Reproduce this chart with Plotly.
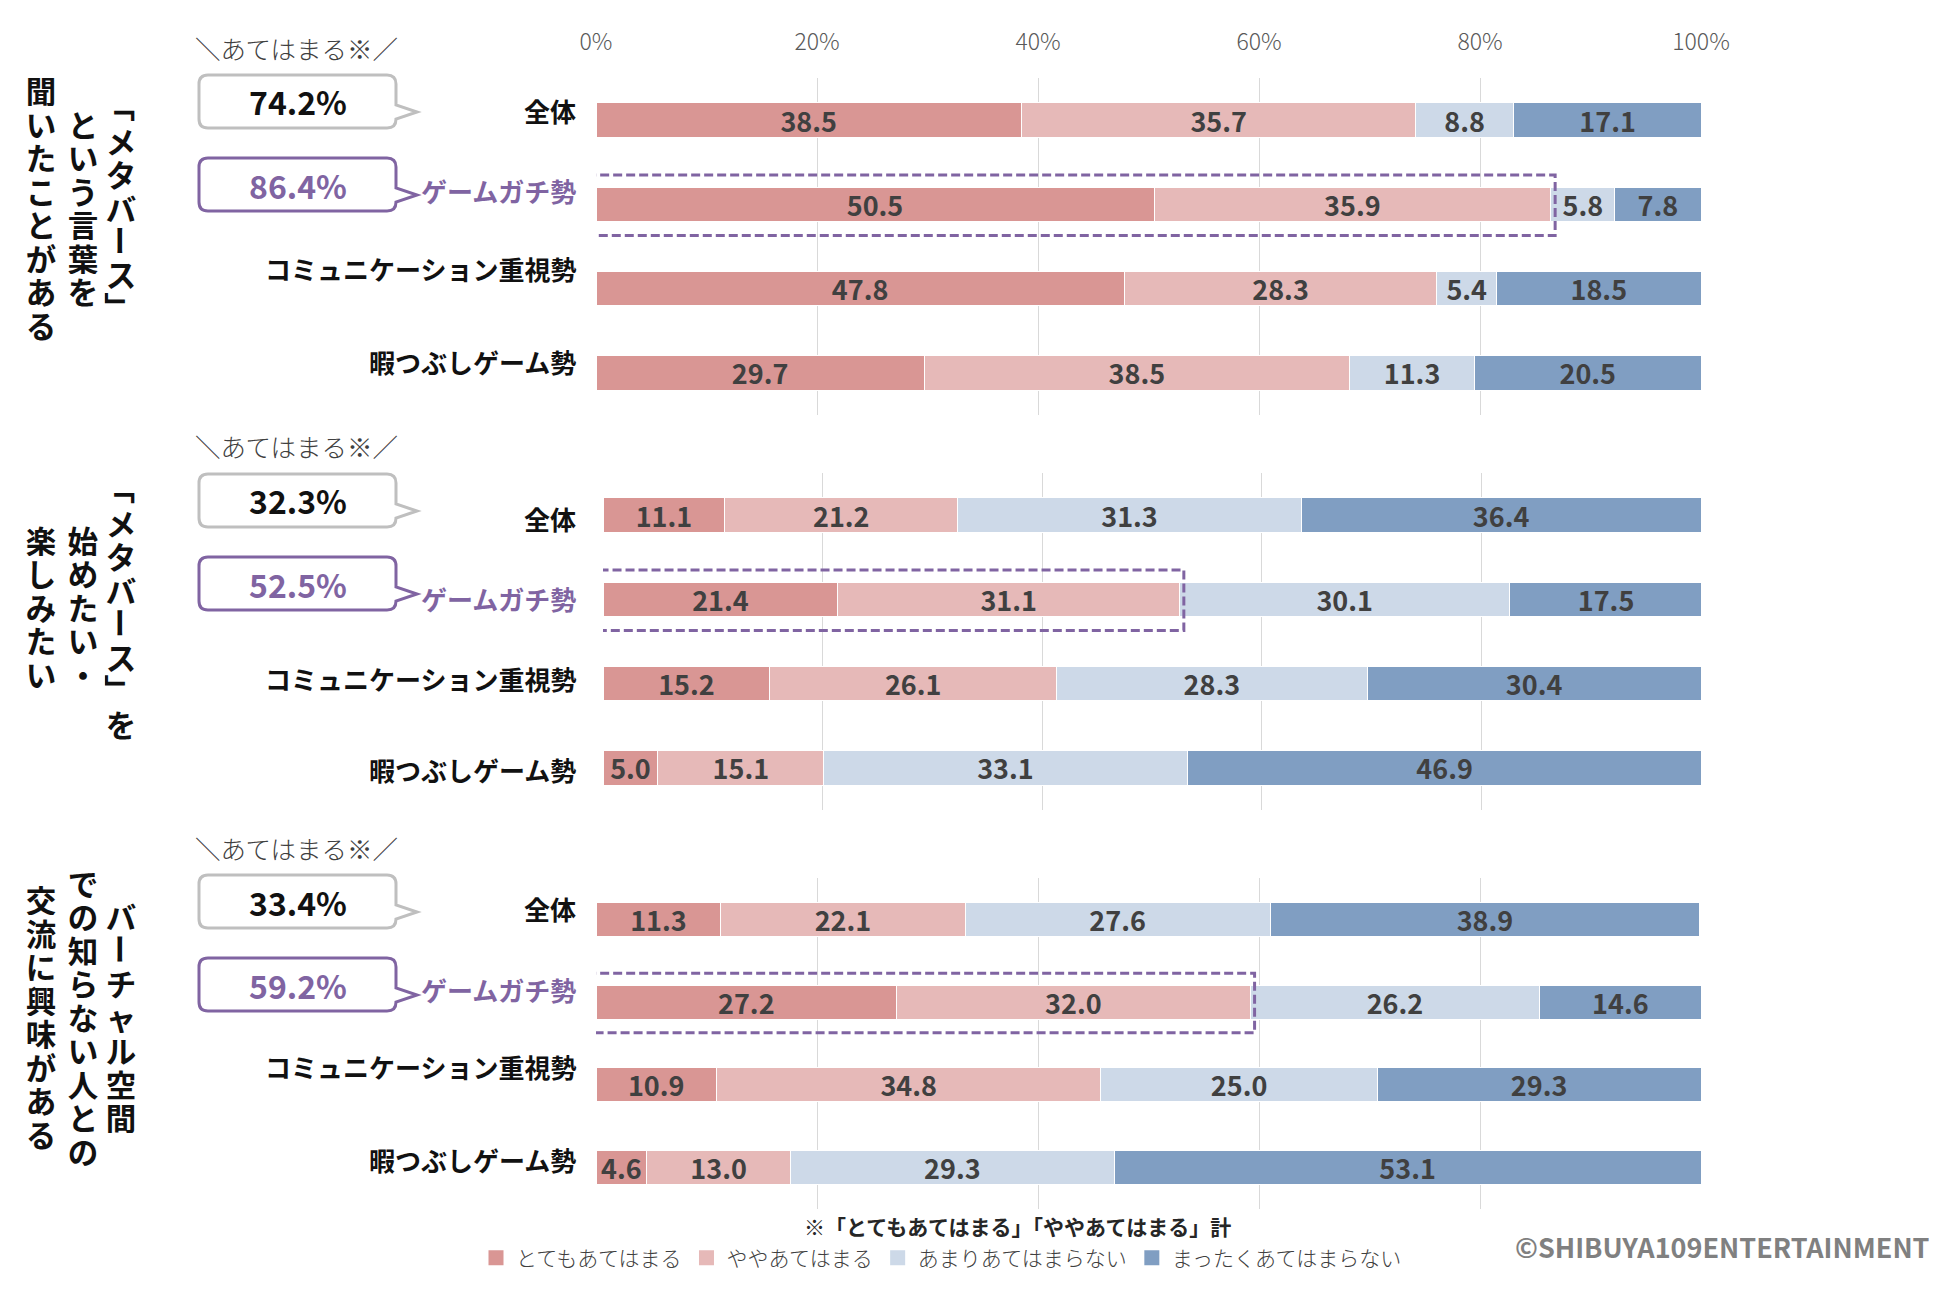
import plotly.graph_objects as go

# page body has an 8px margin: size the figure so the page is exactly 1950x1300
PAGE_W, PAGE_H, BODY_M = 1950, 1300, 8
FW, FH = PAGE_W - 2 * BODY_M, PAGE_H - 2 * BODY_M
FONT = "Noto Sans CJK JP"

# ---------------- data ----------------
categories = ["全体", "ゲームガチ勢", "コミュニケーション重視勢", "暇つぶしゲーム勢"]
series_names = ["とてもあてはまる", "ややあてはまる", "あまりあてはまらない", "まったくあてはまらない"]

q1_totemo = [38.5, 50.5, 47.8, 29.7]
q1_yaya = [35.7, 35.9, 28.3, 38.5]
q1_amari = [8.8, 5.8, 5.4, 11.3]
q1_mattaku = [17.1, 7.8, 18.5, 20.5]

q2_totemo = [11.1, 21.4, 15.2, 5.0]
q2_yaya = [21.2, 31.1, 26.1, 15.1]
q2_amari = [31.3, 30.1, 28.3, 33.1]
q2_mattaku = [36.4, 17.5, 30.4, 46.9]

q3_totemo = [11.3, 27.2, 10.9, 4.6]
q3_yaya = [22.1, 32.0, 34.8, 13.0]
q3_amari = [27.6, 26.2, 25.0, 29.3]
q3_mattaku = [38.9, 14.6, 29.3, 53.1]

question_columns = [
    ["「メタバース」", "という言葉を", "聞いたことがある"],
    ["「メタバース」を", "始めたい・", "楽しみたい"],
    ["バーチャル空間", "での知らない人との", "交流に興味がある"],
]

tick_values = [0, 20, 40, 60, 80, 100]
tick_labels = ["0%", "20%", "40%", "60%", "80%", "100%"]

note_label = "＼あてはまる※／"
footnote = "※「とてもあてはまる」「ややあてはまる」計"
copyright_text = "©SHIBUYA109ENTERTAINMENT"

# ---------------- styles / layout ----------------
colors = ["#D99694", "#E6B9B8", "#CDD9E8", "#809EC2"]
PURPLE = "#8064A2"
GRAY_BUBBLE = "#BFBFBF"

panels = [
    dict(data=[q1_totemo, q1_yaya, q1_amari, q1_mattaku], x0=596, x1=1701, y0=78, y1=415,
         title_cy=207, bubble_tops=(75, 158), note_y=47, shifts=[10, 14, 20, 11], box_pad=-0.8),
    dict(data=[q2_totemo, q2_yaya, q2_amari, q2_mattaku], x0=603, x1=1701, y0=473, y1=810,
         title_cy=606, bubble_tops=(474, 557), note_y=445, shifts=[-3, 1, 5, -2], box_pad=-1.5),
    dict(data=[q3_totemo, q3_yaya, q3_amari, q3_mattaku], x0=596, x1=1701, y0=878, y1=1209,
         title_cy=1016, bubble_tops=(875, 958), note_y=847, shifts=[11, 13, 18, 8], box_pad=-0.8),
]

ROTATE_IN_VERTICAL = "「」ー"


def px(x):
    return (x - BODY_M) / FW


def py(y):
    return 1 - (y - BODY_M) / FH


def bubble_path(x0, y0, x1, y1, r, tail_a, tail_b, tip_x, tip_y):
    def P(x, y):
        return f"{px(x):.5f},{py(y):.5f}"
    return (f"M{P(x0 + r, y0)} L{P(x1 - r, y0)} Q{P(x1, y0)} {P(x1, y0 + r)} "
            f"L{P(x1, tail_a)} L{P(tip_x, tip_y)} L{P(x1, tail_b)} L{P(x1, y1 - r)} "
            f"Q{P(x1, y1)} {P(x1 - r, y1)} L{P(x0 + r, y1)} Q{P(x0, y1)} {P(x0, y1 - r)} "
            f"L{P(x0, y0 + r)} Q{P(x0, y0)} {P(x0 + r, y0)} Z")


fig = go.Figure()
shapes = []
annotations = []
layout_axes = {}

for i, p in enumerate(panels):
    xa = "x" if i == 0 else f"x{i + 1}"
    ya = "y" if i == 0 else f"y{i + 1}"
    for s, vals in enumerate(p["data"]):
        fig.add_trace(go.Bar(
            y=categories, x=vals, orientation="h", name=series_names[s],
            marker=dict(color=colors[s], line=dict(color="white", width=1)),
            width=0.41, texttemplate="%{x:.1f}", textposition="inside",
            insidetextanchor="middle", textangle=0, constraintext="none",
            textfont=dict(family=FONT, size=27, color="#404040", weight=700),
            xaxis=xa, yaxis=ya, showlegend=False, hoverinfo="skip",
        ))
    xkey = "xaxis" if i == 0 else f"xaxis{i + 1}"
    ykey = "yaxis" if i == 0 else f"yaxis{i + 1}"
    layout_axes[xkey] = dict(
        domain=[px(p["x0"]), px(p["x1"])], anchor=ya, range=[0, 100], side="top",
        tickvals=tick_values, ticktext=tick_labels, showticklabels=(i == 0),
        tickfont=dict(family=FONT, size=23, color="#595959", weight=300),
        ticklabelstandoff=22, ticks="", showgrid=True, gridcolor="#D9D9D9", gridwidth=1,
        zeroline=False, showline=False, fixedrange=True,
    )
    layout_axes[ykey] = dict(
        domain=[py(p["y1"]), py(p["y0"])], anchor=xa, type="category",
        categoryorder="array", categoryarray=categories, range=[3.5, -0.5],
        showticklabels=False, showgrid=False, zeroline=False, showline=False, ticks="",
        fixedrange=True,
    )

    # category labels
    for k, cat in enumerate(categories):
        annotations.append(dict(
            text=cat, xref="paper", x=px(578), xanchor="right", yref=ya, y=cat,
            yanchor="middle", yshift=p["shifts"][k], showarrow=False,
            font=dict(family=FONT, size=26, weight=700, color=PURPLE if k == 1 else "#111111"),
        ))

    # dashed highlight box around the top-two share of row 1
    top2 = p["data"][0][1] + p["data"][1][1]
    shapes.append(dict(
        type="rect", xref=xa, yref=ya, x0=p["box_pad"], x1=top2 + 0.4, y0=1 - 0.35, y1=1 + 0.37,
        line=dict(color=PURPLE, width=3, dash="9px,4px"), fillcolor="rgba(0,0,0,0)", layer="above",
    ))

    # speech bubbles with top-two totals
    for b, top in enumerate(p["bubble_tops"]):
        total = p["data"][0][b] + p["data"][1][b]
        col = GRAY_BUBBLE if b == 0 else PURPLE
        shapes.append(dict(
            type="path", xref="paper", yref="paper",
            path=bubble_path(199, top, 396, top + 53, 9, top + 30, top + 44, 417, top + 37),
            line=dict(color=col, width=3), fillcolor="white", layer="above",
        ))
        annotations.append(dict(
            text=f"{total:.1f}%", xref="paper", yref="paper", x=px(297.5), y=py(top + 26.5),
            xanchor="center", yanchor="middle", showarrow=False,
            font=dict(family=FONT, size=32, weight=700, color="#111111" if b == 0 else PURPLE),
        ))

    annotations.append(dict(
        text=note_label, xref="paper", yref="paper", x=px(296), y=py(p["note_y"]),
        xanchor="center", yanchor="middle", showarrow=False,
        font=dict(family=FONT, size=25.5, weight=300, color="#404040"),
    ))

    # vertical question title (tategaki; columns read right to left)
    col_x = [121, 83, 41]
    pitch = 33.5
    for j, column in enumerate(question_columns[i]):
        n = len(column)
        for k, ch in enumerate(column):
            cy = p["title_cy"] + (k - (n - 1) / 2) * pitch
            annotations.append(dict(
                text=ch, xref="paper", yref="paper", x=px(col_x[j]), y=py(cy),
                xanchor="center", yanchor="middle", showarrow=False,
                width=34, height=33, borderpad=0,
                textangle=90 if ch in ROTATE_IN_VERTICAL else 0,
                font=dict(family=FONT, size=30.5, weight=700, color="#111111"),
            ))

# legend entries (square swatches)
for s, name in enumerate(series_names):
    fig.add_trace(go.Scatter(
        x=[None], y=[None], mode="markers", name=name,
        marker=dict(symbol="square", size=15, color=colors[s]),
        xaxis="x", yaxis="y", showlegend=True, hoverinfo="skip",
    ))

annotations.append(dict(
    text=footnote, xref="paper", yref="paper", x=px(1017), y=py(1226),
    xanchor="center", yanchor="middle", showarrow=False,
    font=dict(family=FONT, size=21, weight=700, color="#262626"),
))
annotations.append(dict(
    text=copyright_text, xref="paper", yref="paper", x=px(1932), y=py(1246),
    xanchor="right", yanchor="middle", showarrow=False,
    font=dict(family=FONT, size=27, weight=700, color="#808080"),
))

fig.update_layout(
    width=FW, height=FH, margin=dict(l=0, r=0, t=0, b=0, autoexpand=False),
    paper_bgcolor="white", plot_bgcolor="white", barmode="stack",
    font=dict(family=FONT, color="#404040"),
    showlegend=True,
    legend=dict(orientation="h", x=px(476), xanchor="left", y=py(1258), yanchor="middle",
                font=dict(family=FONT, size=21, weight=300, color="#404040"),
                bgcolor="rgba(0,0,0,0)", traceorder="normal", itemclick=False),
    shapes=shapes, annotations=annotations,
    **layout_axes,
)

fig.write_html("out.html")
